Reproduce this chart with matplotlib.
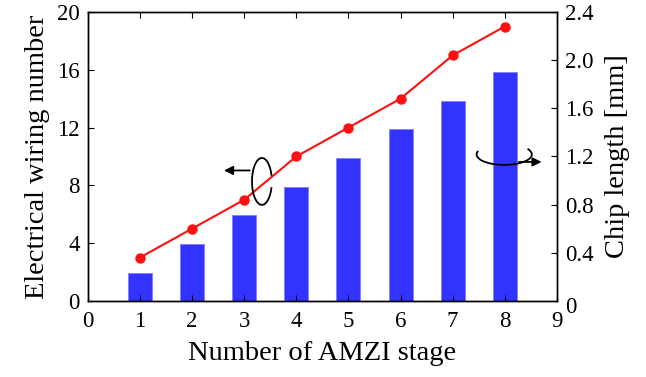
import matplotlib
matplotlib.use("Agg")
import matplotlib.pyplot as plt
import matplotlib.transforms as mtransforms
from matplotlib.patches import Arc

plt.rcParams['font.family'] = ['Liberation Serif', 'DejaVu Serif']
plt.rcParams['mathtext.fontset'] = 'stix'

stages = [1, 2, 3, 4, 5, 6, 7, 8]
wiring_number = [3, 5, 7, 10, 12, 14, 17, 19]
chip_length_mm = [0.23, 0.47, 0.71, 0.95, 1.19, 1.43, 1.66, 1.90]
x_ticks = [0, 1, 2, 3, 4, 5, 6, 7, 8, 9]
left_ticks = [0, 4, 8, 12, 16, 20]
right_ticks = [0, 0.4, 0.8, 1.2, 1.6, 2.0, 2.4]
right_labels = ['0', '0.4', '0.8', '1.2', '1.6', '2.0', '2.4']

fig = plt.figure(figsize=(6.46, 3.77), dpi=100)
ax1 = fig.add_axes([0.136, 0.202, 0.726, 0.766])
ax2 = ax1.twinx()

ax2.bar(stages, chip_length_mm, width=0.46, color='#3333FF', edgecolor='#8080FF', linewidth=0.6)
ax1.plot(stages, wiring_number, color='#FF1010', lw=1.5, marker='o', ms=6.5, mfc='#FF1010', mec='#FF1010')

ax1.set_zorder(ax2.get_zorder() + 1)
ax1.patch.set_visible(False)

ax1.set_xlim(0, 9)
ax1.set_ylim(0, 20)
ax2.set_ylim(0, 2.4)
ax1.set_xticks(x_ticks)
ax1.set_yticks(left_ticks)
ax2.set_yticks(right_ticks)
ax2.set_yticklabels(right_labels)

fs = 16.5
ax1.tick_params(axis='x', direction='in', top=True, length=4, labelsize=fs, pad=7.5)
ax1.tick_params(axis='y', direction='in', length=4, labelsize=fs, pad=6)
ax2.tick_params(axis='y', direction='in', length=4, labelsize=fs, pad=6)

# the right-axis "0" sits slightly lower in the reference
lab0 = ax2.get_yticklabels()[0]
lab0.set_transform(lab0.get_transform() + mtransforms.ScaledTranslation(0, -4 / 100, fig.dpi_scale_trans))

ax1.set_xlabel('Number of AMZI stage', fontsize=20.5, labelpad=6.5)
ax1.set_ylabel('Electrical wiring number', fontsize=20.5, labelpad=5)
ax2.set_ylabel('Chip length [mm]', fontsize=20.5, labelpad=8)

for ax in (ax1, ax2):
    for s in ax.spines.values():
        s.set_linewidth(1.0)

# left rotation annotation (points to left axis)
ax1.add_patch(Arc((3.34, 8.27), 0.38, 3.25, theta1=65, theta2=295, color='black', lw=1.3, zorder=5))
ax1.annotate('', xy=(2.56, 9.03), xytext=(3.16, 9.03),
             arrowprops=dict(arrowstyle='-|>', color='black', lw=1.3, mutation_scale=13), zorder=5)
# right rotation annotation (points to right axis)
ax1.add_patch(Arc((7.99, 10.14), 1.06, 1.45, theta1=154, theta2=41, color='black', lw=1.3, zorder=5))
ax1.annotate('', xy=(8.76, 9.62), xytext=(8.22, 9.62),
             arrowprops=dict(arrowstyle='-|>', color='black', lw=1.3, mutation_scale=13), zorder=5)

fig.savefig('out.png', dpi=100)
